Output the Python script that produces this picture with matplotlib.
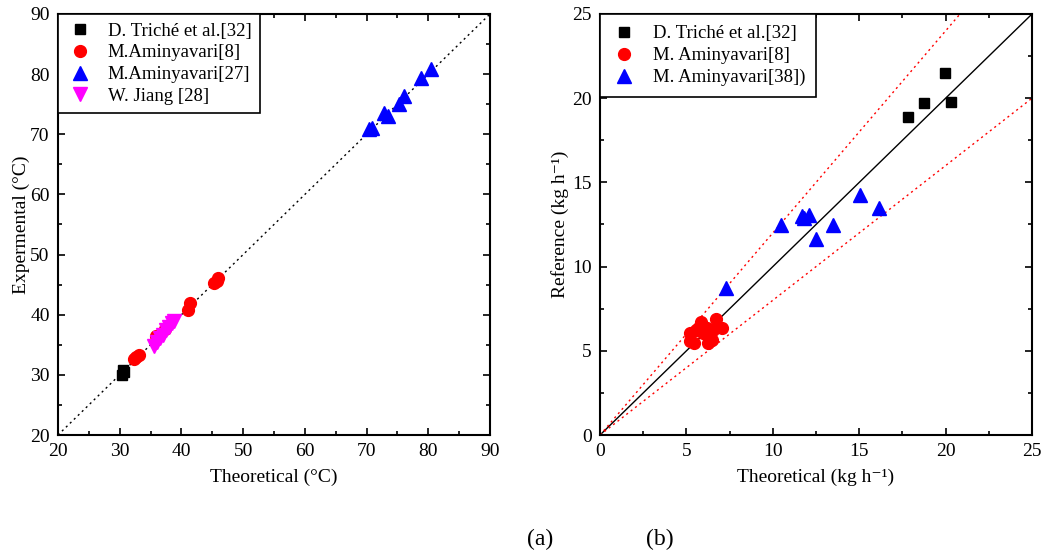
import numpy as np
import matplotlib
matplotlib.use('Agg')
import matplotlib.pyplot as plt
from matplotlib.ticker import MultipleLocator

plt.rcParams['font.family'] = ['Liberation Serif', 'DejaVu Serif']

# (a) temperature data
a_triche_x = [30.3, 30.5, 30.7]
a_triche_y = [30.0, 30.8, 30.5]
a_amin8_x = [32.3, 32.7, 33.1, 35.9, 37.3, 41.1, 41.4, 45.2, 45.7, 46.0]
a_amin8_y = [32.6, 32.9, 33.3, 36.4, 37.7, 40.8, 41.9, 45.2, 45.6, 46.1]
a_amin27_x = [70.4, 70.9, 72.9, 73.5, 75.3, 76.0, 78.8, 80.4]
a_amin27_y = [70.9, 71.1, 73.5, 73.1, 75.0, 76.3, 79.4, 80.8]
a_jiang_x = [35.5, 36.0, 36.5, 37.0, 37.5, 38.0, 38.4, 38.8]
a_jiang_y = [34.8, 35.5, 36.1, 36.7, 37.4, 38.0, 38.6, 39.0]

# (b) mass flow data
b_triche_x = [17.8, 18.75, 19.94, 20.3]
b_triche_y = [18.9, 19.73, 21.52, 19.75]
b_amin8_x = [5.21, 5.21, 5.46, 5.56, 5.85, 5.98, 6.18, 6.27, 6.47, 6.53, 6.72, 7.05]
b_amin8_y = [6.04, 5.6, 5.44, 6.24, 6.69, 6.04, 6.33, 5.44, 5.64, 6.24, 6.87, 6.33]
b_amin38_x = [7.30, 10.48, 11.68, 11.81, 12.07, 12.5, 13.46, 15.02, 16.12]
b_amin38_y = [8.71, 12.47, 13.0, 12.87, 13.06, 11.62, 12.47, 14.25, 13.46]

fig = plt.figure(figsize=(10.41, 5.55), dpi=100)
ax1 = fig.add_axes([0.0557, 0.2162, 0.415, 0.7586])
ax2 = fig.add_axes([0.5764, 0.2162, 0.415, 0.7586])


def style(ax, major, minor):
    ax.xaxis.set_major_locator(MultipleLocator(major))
    ax.yaxis.set_major_locator(MultipleLocator(major))
    ax.xaxis.set_minor_locator(MultipleLocator(minor))
    ax.yaxis.set_minor_locator(MultipleLocator(minor))
    ax.tick_params(which='both', direction='in', top=True, right=True,
                   labelsize=14, width=1.2, pad=6)
    ax.tick_params(which='major', length=5)
    ax.tick_params(which='minor', length=3)
    for s in ax.spines.values():
        s.set_linewidth(1.5)


def legend(ax, pad, tpad):
    leg = ax.legend(loc='upper left', fontsize=13.5, fancybox=False,
                    edgecolor='black', framealpha=1, borderaxespad=0,
                    handletextpad=tpad, handlelength=1.4,
                    labelspacing=0.25, borderpad=pad)
    leg.get_frame().set_linewidth(1.2)


# ---- (a)
ax1.plot([20, 90], [20, 90], ls=(0, (1.5, 2.5)), color='black', lw=1, zorder=1)
ax1.plot(a_triche_x, a_triche_y, 's', color='black', ms=7.5, label='D. Triché et al.[32]')
ax1.plot(a_amin8_x, a_amin8_y, 'o', color='red', ms=8.5, label='M.Aminyavari[8]')
ax1.plot(a_amin27_x, a_amin27_y, '^', color='blue', ms=9.5, label='M.Aminyavari[27]')
ax1.plot(a_jiang_x, a_jiang_y, 'v', color='magenta', ms=9.5, label='W. Jiang [28]')
ax1.set_xlim(20, 90)
ax1.set_ylim(20, 90)
style(ax1, 10, 5)
ax1.set_xlabel('Theoretical (°C)', fontsize=14, labelpad=6)
ax1.set_ylabel('Expermental (°C)', fontsize=14, labelpad=0)
legend(ax1, 0.45, 0.8)

# ---- (b)
ax2.plot([0, 25], [0, 25], color='black', lw=1, zorder=1)
ax2.plot([0, 25], [0, 25 * 1.2], ls=(0, (1.5, 2.5)), color='red', lw=1, zorder=1)
ax2.plot([0, 25], [0, 25 * 0.8], ls=(0, (1.5, 2.5)), color='red', lw=1, zorder=1)
ax2.plot(b_triche_x, b_triche_y, 's', color='black', ms=7.5, label='D. Triché et al.[32]')
ax2.plot(b_amin8_x, b_amin8_y, 'o', color='red', ms=8.5, label='M. Aminyavari[8]')
ax2.plot(b_amin38_x, b_amin38_y, '^', color='blue', ms=9.5, label='M. Aminyavari[38])')
ax2.set_xlim(0, 25)
ax2.set_ylim(0, 25)
style(ax2, 5, 2.5)
ax2.set_xlabel('Theoretical (kg h⁻¹)', fontsize=14, labelpad=6)
ax2.set_ylabel('Reference (kg h⁻¹)', fontsize=14, labelpad=2)
legend(ax2, 0.6, 0.8)

fig.text(0.519, 0.018, '(a)', fontsize=17, ha='center')
fig.text(0.634, 0.018, '(b)', fontsize=17, ha='center')

fig.savefig('out.png', dpi=100)
